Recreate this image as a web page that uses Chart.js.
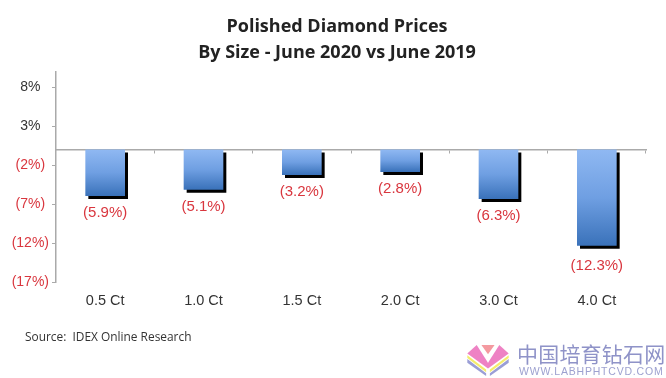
<!DOCTYPE html>
<html>
<head>
<meta charset="utf-8">
<style>
    html, body { margin: 0; padding: 0; background: #fff; }
    #wrap { position: relative; width: 666px; height: 378px; overflow: hidden; }
    #logo { position: absolute; left: 467px; top: 344px; }
    #wmCn { position: absolute; left: 517px; top: 339px; font: 21px "Noto Sans CJK SC"; line-height: 28px; letter-spacing: 0.2px; color: #8f93c8; white-space: nowrap; }
    #wmEn { position: absolute; left: 519px; top: 365px; font: 10.5px "Liberation Sans"; line-height: 12px; letter-spacing: 0.8px; color: #9da1d0; white-space: nowrap; }
</style>
</head>
<body>
<div id="wrap">
    <canvas id="priceChart" width="666" height="378"></canvas>
    <svg id="logo" width="42" height="32" viewBox="0 0 44 34">
        <polygon points="15,1 29,1 22,11" fill="#f49aa0"/>
        <polygon points="10,1 22,20 22,26 0,10" fill="#ee82c4"/>
        <polygon points="34,1 22,20 22,26 44,10" fill="#ee82c4"/>
        <polygon points="0,12 20,27 20,30 0,15" fill="#f5ec6c"/>
        <polygon points="44,12 24,27 24,30 44,15" fill="#f5ec6c"/>
        <polygon points="0,16 20,31 20,34 0,20" fill="#9a9ed6"/>
        <polygon points="44,16 24,31 24,34 44,20" fill="#9a9ed6"/>
    </svg>
    <div id="wmCn">中国培育钻石网</div>
    <div id="wmEn">WWW.LABHPHTCVD.COM</div>
</div>
<script src="https://cdn.jsdelivr.net/npm/chart.js@4"></script>
<script>
const titleLines = ['Polished Diamond Prices', 'By Size - June 2020 vs June 2019'];
const sizes = ['0.5 Ct', '1.0 Ct', '1.5 Ct', '2.0 Ct', '3.0 Ct', '4.0 Ct'];
const priceChange = [-5.9, -5.1, -3.2, -2.8, -6.3, -12.3];
const barLabels = ['(5.9%)', '(5.1%)', '(3.2%)', '(2.8%)', '(6.3%)', '(12.3%)'];
const tickValues = [-17, -12, -7, -2, 3, 8];
const tickLabels = ['(17%)', '(12%)', '(7%)', '(2%)', '3%', '8%'];
const sourceText = 'Source:  IDEX Online Research';

const RED = '#d9363e';
const DARK = '#333333';
const AXIS_GREY = '#aaaaaa';

// hard shadow behind the bars; title, value labels and source line drawn here too
const decorations = {
    id: 'decorations',
    beforeDatasetsDraw(chart) {
        const ctx = chart.ctx;
        ctx.save();
        ctx.shadowColor = '#000';
        ctx.shadowOffsetX = 3;
        ctx.shadowOffsetY = 3;
        ctx.shadowBlur = 0;
    },
    afterDatasetsDraw(chart) {
        const ctx = chart.ctx;
        ctx.restore();
        ctx.save();
        ctx.textBaseline = 'middle';

        ctx.fillStyle = RED;
        ctx.font = '15px "Liberation Sans"';
        ctx.textAlign = 'center';
        chart.getDatasetMeta(0).data.forEach((bar, i) => {
            ctx.fillText(barLabels[i], bar.x, bar.y + (priceChange[i] < -10 ? 20 : 17));
        });

        ctx.fillStyle = '#222222';
        ctx.font = '700 18px "Open Sans"';
        ctx.fillText(titleLines[0], 337, 27);
        ctx.fillText(titleLines[1], 337, 53);

        ctx.fillStyle = DARK;
        ctx.font = '11.9px "Open Sans"';
        ctx.textAlign = 'left';
        ctx.fillText(sourceText, 25, 338);
        ctx.restore();
    }
};

new Chart(document.getElementById('priceChart'), {
    type: 'bar',
    data: {
        labels: sizes,
        datasets: [{
            data: priceChange,
            barThickness: 39,
            backgroundColor(context) {
                const { chart, raw } = context;
                if (raw === undefined || !chart.chartArea) return '#6a9be0';
                const yScale = chart.scales.y;
                const g = chart.ctx.createLinearGradient(0, yScale.getPixelForValue(0), 0, yScale.getPixelForValue(raw));
                g.addColorStop(0, '#8fb8f2');
                g.addColorStop(0.5, '#6f9fe2');
                g.addColorStop(1, '#3a72ba');
                return g;
            }
        }]
    },
    plugins: [decorations],
    options: {
        responsive: false,
        animation: false,
        layout: { padding: { top: 72, right: 20 } },
        plugins: {
            legend: { display: false },
            tooltip: { enabled: false }
        },
        scales: {
            x: {
                position: 'bottom',
                grid: { display: false },
                border: { display: false },
                ticks: { color: DARK, font: { family: '"Liberation Sans"', size: 14.5 }, padding: 2, maxRotation: 0 },
                afterFit(scale) { scale.height = 96; }
            },
            zeroLine: {
                type: 'category',
                axis: 'x',
                labels: sizes,
                position: { y: 0 },
                grid: { offset: true, drawOnChartArea: false, tickLength: 3, color: AXIS_GREY },
                border: { display: true, color: AXIS_GREY, width: 1.5 },
                ticks: { display: false }
            },
            y: {
                min: -17,
                max: 10,
                border: { color: AXIS_GREY, width: 1.5 },
                grid: { drawOnChartArea: false, tickLength: 4, color: AXIS_GREY },
                ticks: {
                    padding: 3,
                    crossAlign: 'center',
                    font: { family: '"Liberation Sans"', size: 14 },
                    color: ctx => ctx.tick.value < 0 ? RED : DARK,
                    callback: value => tickLabels[tickValues.indexOf(value)]
                },
                afterBuildTicks(scale) { scale.ticks = tickValues.map(value => ({ value })); },
                afterFit(scale) { scale.width = 56; }
            }
        }
    }
});
</script>
</body>
</html>
